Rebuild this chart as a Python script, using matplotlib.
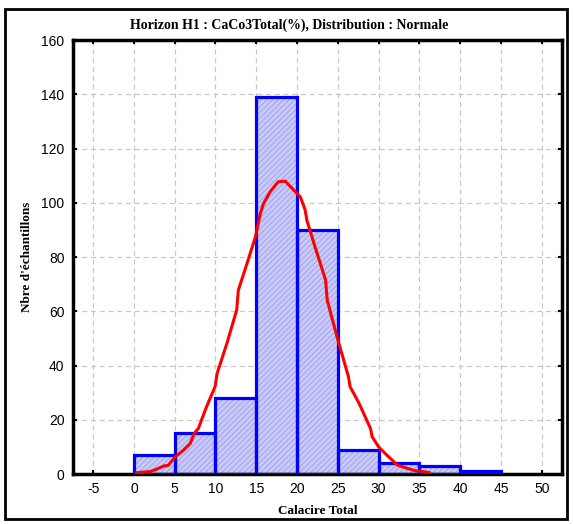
import numpy as np
import matplotlib
matplotlib.use('Agg')
import matplotlib.pyplot as plt
from matplotlib.patches import Rectangle

# histogram bins (left edges) and counts
bin_left = [0, 5, 10, 15, 20, 25, 30, 35, 40]
counts = [7, 15, 28, 139, 90, 9, 4, 3, 1]
bin_width = 5

# fitted normal curve
curve_x = [0.3, 2.0, 2.8, 3.6, 4.2, 5.0, 6.1, 6.9, 7.4, 7.9, 8.9, 9.95, 10.2, 11.4,
           12.6, 12.8, 14.0, 14.9, 15.5, 15.9, 16.7, 17.7, 18.55, 19.6, 20.4, 21.0,
           21.2, 22.2, 23.5, 23.7, 24.9, 26.3, 26.5, 27.6, 29.0, 29.2, 30.0, 31.0,
           32.3, 33.5, 34.5, 35.1, 36.2]
curve_y = [0.5, 0.9, 1.8, 2.9, 3.2, 6.1, 8.9, 11.3, 15.0, 16.8, 24.8, 32.2, 37.1, 48.2,
           60.5, 67.8, 78.9, 87.5, 96.1, 99.8, 104.1, 107.8, 108.0, 104.7, 102.2, 97.3,
           93.6, 83.8, 71.5, 64.1, 50.6, 35.9, 32.2, 26.1, 16.8, 13.8, 10.0, 7.0,
           3.3, 2.1, 1.2, 1.1, 0.5]

x_ticks = [-5, 0, 5, 10, 15, 20, 25, 30, 35, 40, 45, 50]
y_ticks = [0, 20, 40, 60, 80, 100, 120, 140, 160]

plt.rcParams['font.family'] = ['Liberation Sans', 'DejaVu Sans']
plt.rcParams['hatch.linewidth'] = 0.6
plt.rcParams['axes.unicode_minus'] = False

fig = plt.figure(figsize=(5.73, 5.24), dpi=100)
ax = fig.add_axes([0.127, 0.0954, 0.854, 0.828])

# hatched fill, then blue outline
ax.bar(bin_left, counts, width=bin_width, align='edge', color='#cacaf8',
       edgecolor='#9a9aee', hatch='//////', linewidth=0, zorder=2)
ax.bar(bin_left, counts, width=bin_width, align='edge', fill=False,
       edgecolor='#0000ff', linewidth=2.3, zorder=3)

ax.plot(curve_x, curve_y, color='#ff0000', linewidth=2.2, zorder=4)

ax.set_xlim(-7.5, 52.5)
ax.set_ylim(0, 160)
ax.set_xticks(x_ticks)
ax.set_yticks(y_ticks)
ax.grid(True, color='#c8c8c8', linestyle=(0, (4, 3)), linewidth=0.9, zorder=0)
ax.tick_params(direction='in', top=True, right=True, length=3, width=1.5,
               labelsize=10, pad=6)
for s in ax.spines.values():
    s.set_linewidth(2.5)

serif = ['Liberation Serif', 'DejaVu Serif']
fig.text(0.505, 0.952, 'Horizon H1 : CaCo3Total(%), Distribution : Normale', family=serif,
         fontsize=10, fontweight='bold', ha='center', va='center')
ax.set_xlabel('Calacire Total', family=serif, fontsize=9.5, fontweight='bold', labelpad=6)
ax.set_ylabel("Nbre d'échantillons", family=serif, fontsize=9.5, fontweight='bold', labelpad=6)

# outer frame around the whole figure
fig.patches.append(Rectangle((5 / 573, 5 / 524), 562 / 573, 510 / 524,
                             transform=fig.transFigure, fill=False,
                             edgecolor='black', linewidth=2))

fig.savefig('out.png', dpi=100)
